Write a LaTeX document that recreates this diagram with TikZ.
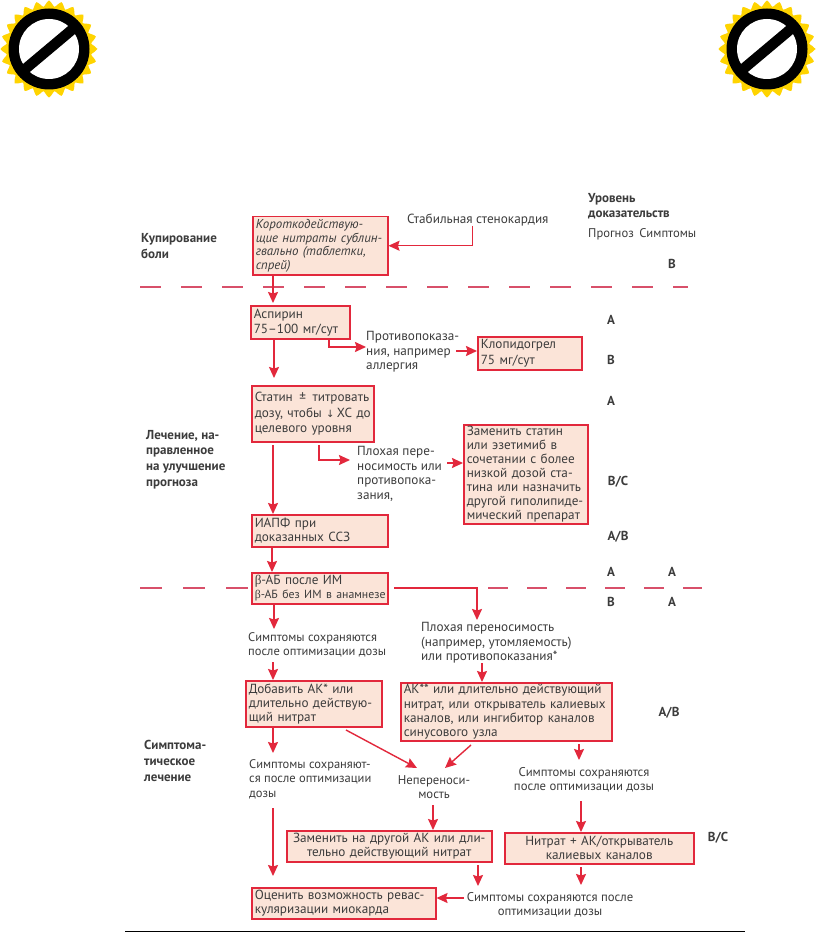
\documentclass[tikz,border=0pt]{standalone}
\usepackage{fontspec}
\setmainfont{PT Sans}
\newfontfamily\gkfont{Liberation Serif}
\newfontfamily\symfont{DejaVu Sans}
\usetikzlibrary{arrows.meta,calc}
\definecolor{pred}{HTML}{E2283C}
\definecolor{pfill}{HTML}{FBE4D8}
\definecolor{pdash}{HTML}{D8506A}
\definecolor{ptext}{HTML}{3C3C3C}
\definecolor{sealy}{HTML}{FFD400}
\newcommand{\sealicon}[2]{%
  \fill[sealy] plot[samples=97,domain=0:360,smooth cycle] ({#1+(45.5+3*cos(24*\x))*cos(\x)},{#2+(45.5+3*cos(24*\x))*sin(\x)});
  \fill[black] (#1,#2) circle[radius=40.5];
  \fill[white] (#1,#2) circle[radius=30];
  \draw[black,line width=10.5] (#1-25,#2+21) -- (#1+25,#2-21);
}
\tikzset{
  pbox/.style={draw=pred,fill=pfill,line width=1.5pt,inner xsep=3pt,inner ysep=0pt,anchor=north west,align=left,
    text=ptext,font=\fontsize{13.2}{14.2}\selectfont},
  txt/.style={inner sep=0pt,anchor=west,align=left,text=ptext,font=\fontsize{13.2}{14.6}\selectfont},
  stxt/.style={txt,font=\fontsize{12.5}{14.5}\selectfont},
  ctxt/.style={txt,anchor=center,align=center,font=\fontsize{12.7}{14.5}\selectfont},
  head/.style={txt,font=\bfseries\fontsize{13}{15.6}\selectfont},
  lvl/.style={inner sep=0pt,anchor=center,text=ptext,font=\bfseries\fontsize{13}{14}\selectfont},
  conn/.style={draw=pred,line width=1.4pt,-{Stealth[length=11pt,width=10pt,inset=1.5pt]}},
  sep/.style={draw=pdash,line width=1.4pt,dash pattern=on 21pt off 20pt},
}
\begin{document}
\begin{tikzpicture}[x=1pt,y=-1pt]
\useasboundingbox (0,0) rectangle (816,933);
\fill[white] (0,0) rectangle (816,933);
\sealicon{49}{49}
\sealicon{767}{49}

% separators
\draw[sep] (140,287) -- (688,287);
\draw[sep,dash pattern=on 22pt off 21pt] (140,588) -- (250,588);
\draw[sep,dash pattern=on 20pt off 19pt] (488,588) -- (702,588);
\draw[black,line width=1pt] (125,931) -- (745,931);

% boxes
\node[pbox,minimum width=135,minimum height=58,text width=129,font=\itshape\fontsize{12.9}{13.6}\selectfont] (b1) at (252,216) {Короткодействую-\\щие нитраты сублин-\\гвально (таблетки,\\спрей)};
\node[pbox,minimum width=99,minimum height=33,text width=93,font=\fontsize{13.2}{15}\selectfont] (asp) at (250,305) {Аспирин\\75–100 мг/сут};
\node[pbox,minimum width=104,minimum height=33,text width=98,font=\fontsize{13.2}{15.7}\selectfont] (klop) at (477,336) {Клопидогрел\\75 мг/сут};
\node[pbox,minimum width=122,minimum height=56,text width=116,font=\fontsize{13.2}{15.5}\selectfont] (stat) at (251,385) {Статин \,±\, титровать\\\mbox{дозу, чтобы {\symfont\fontsize{10}{10}\selectfont↓}\,ХС до}\\целевого уровня};
\node[pbox,minimum width=124,minimum height=99,text width=118,font=\fontsize{13.2}{13.9}\selectfont] (repl) at (463,424) {Заменить статин\\или эзетимиб в\\сочетании с более\\низкой дозой ста-\\тина или назначить\\другой гиполипиде-\\мический препарат};
\node[pbox,minimum width=136,minimum height=32,text width=130] (iapf) at (251,514) {ИАПФ при\\доказанных ССЗ};
\node[pbox,minimum width=136,minimum height=31,text width=130] (bab) at (251,572) {{\gkfont β}-АБ после ИМ\\\mbox{\fontsize{11.8}{14.2}\selectfont{\gkfont β}-АБ без ИМ в анамнезе}};
\node[pbox,minimum width=136,minimum height=46,text width=130] (add) at (245,680) {Добавить АК* или\\длительно действую-\\щий нитрат};
\node[pbox,minimum width=211,minimum height=58,text width=205] (ak) at (400,682) {АК** или длительно действующий\\нитрат, или открыватель калиевых\\каналов, или ингибитор каналов\\синусового узла};
\node[pbox,minimum width=205,minimum height=31,text width=199,align=center] (zam) at (286,830) {Заменить на другой АК или дли-\\тельно действующий нитрат};
\node[pbox,minimum width=189,minimum height=31,text width=183,align=center] (nit) at (504,832) {Нитрат + АК/открыватель\\калиевых каналов};
\node[pbox,minimum width=184,minimum height=31,text width=178] (oc) at (251,887) {Оценить возможность ревас-\\куляризации миокарда};

% free text
\node[txt] (stab) at (407,220.5) {Стабильная стенокардия};
\node[txt] (prot) at (366,352) {Противопоказа-\\ния, например\\аллергия};
\node[txt] (ploh) at (357,474) {Плохая пере-\\носимость или\\противопока-\\зания,};
\node[stxt] (sy1) at (248,645) {Симптомы сохраняются\\после оптимизации дозы};
\node[txt] (ploh2) at (421,643) {Плохая переносимость\\(например, утомляемость)\\или противопоказания*};
\node[stxt] (sy2) at (249,779) {Симптомы сохраняют-\\ся после оптимизации\\дозы};
\node[ctxt] (nep) at (434,787) {Непереноси-\\мость};
\node[ctxt] (sy3) at (584,780) {Симптомы сохраняются\\после оптимизации дозы};
\node[ctxt] (sy4) at (550,905) {Симптомы сохраняются после\\оптимизации дозы};

% headings
\node[head] (h1) at (141,246) {Купирование\\боли};
\node[head] (h2) at (146,459.5) {Лечение, на-\\правленное\\на улучшение\\прогноза};
\node[head] (h3) at (144,761) {Симптома-\\тическое\\лечение};
\node[head] (h4) at (588,206) {Уровень\\доказательств};
\node[txt,font=\fontsize{12.6}{14}\selectfont] (h5) at (588,234) {Прогноз\, Симптомы};

% levels
\node[lvl] (l1) at (672,264) {В};
\node[lvl] (l2) at (611,320) {А};
\node[lvl] (l3) at (611,360) {В};
\node[lvl] (l4) at (611,401) {А};
\node[lvl] (l5) at (618,482) {В/С};
\node[lvl] (l6) at (618,537) {А/В};
\node[lvl] (l7) at (611,572) {А};
\node[lvl] (l8) at (672,572) {А};
\node[lvl] (l9) at (611,602) {В};
\node[lvl] (l10) at (672,602) {А};
\node[lvl] (l11) at (669,713) {А/В};
\node[lvl] (l12) at (718,838) {В/С};

% free ends of connectors
\coordinate (e1) at (472.5,226);
\coordinate (e2) at (273,303);
\coordinate (e3) at (274,378);
\coordinate (e4) at (366,347);
\coordinate (e5) at (456,351);
\coordinate (e6) at (273,445);
\coordinate (e7) at (319,445);
\coordinate (e8) at (350,460);
\coordinate (e9) at (447,463);
\coordinate (e10) at (394,588);
\coordinate (e11) at (477,620);
\coordinate (e12) at (274,605);
\coordinate (e13) at (274,629);
\coordinate (e14) at (273,662);
\coordinate (e15) at (482,663);
\coordinate (e16) at (273,728);
\coordinate (e17) at (273,753);
\coordinate (e18) at (346,730);
\coordinate (e19) at (417,768);
\coordinate (e20) at (471,745);
\coordinate (e21) at (445,768);
\coordinate (e22) at (579,744);
\coordinate (e23) at (579,760);
\coordinate (e24) at (273,808);
\coordinate (e25) at (273,876);
\coordinate (e26) at (433,805);
\coordinate (e27) at (581,801);
\coordinate (e28) at (478,865);
\coordinate (e29) at (478,886);
\coordinate (e30) at (581,867);
\coordinate (e31) at (581,885);
\coordinate (e32) at (464,898);

% connectors
\draw[conn] (e1) |- (b1.east);
\draw[conn] (b1.south -| e2) -- (e2);
\draw[conn] (asp.south -| e3) -- (e3);
\draw[conn] (asp.south -| 329,0) |- (e4);
\draw[conn] (e5) -- (klop.west |- e5);
\draw[conn] (e6) -- (iapf.north -| e6);
\draw[conn] (e7) |- (e8);
\draw[conn] (e9) -- (repl.west |- e9);
\draw[conn] (iapf.south -| 272,0) -- (bab.north -| 272,0);
\draw[conn] (e10) -| (e11);
\draw[conn] (e12) -- (e13);
\draw[conn] (e14) -- (add.north -| e14);
\draw[conn] (e15) -- (ak.north -| e15);
\draw[conn] (e16) -- (e17);
\draw[conn] (e18) -- (e19);
\draw[conn] (e20) -- (e21);
\draw[conn] (e22) -- (e23);
\draw[conn] (e24) -- (e25);
\draw[conn] (e26) -- (zam.north -| e26);
\draw[conn] (e27) -- (nit.north -| e27);
\draw[conn] (e28) -- (e29);
\draw[conn] (e30) -- (e31);
\draw[conn] (e32) -- (oc.east |- e32);
\end{tikzpicture}
\end{document}
